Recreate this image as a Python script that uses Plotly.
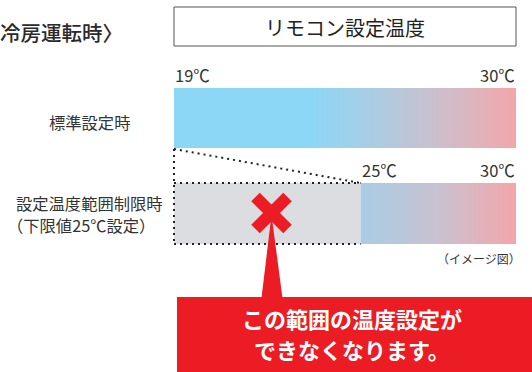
import plotly.graph_objects as go

# ---- data ----
temp_min_std = 19      # standard lower limit (°C)
temp_max = 30          # upper limit (°C)
temp_min_limited = 25  # restricted lower limit (°C)
row_labels = ["標準設定時", "設定温度範囲制限時", "（下限値25℃設定）"]
tick_labels_std = ["19℃", "30℃"]
tick_labels_lim = ["25℃", "30℃"]
title_left = "冷房運転時〉"
box_title = "リモコン設定温度"
callout_lines = ["この範囲の温度設定が", "できなくなります。"]
note = "（イメージ図）"

W, H = 532, 372
PX0, PX1 = 174, 516  # pixel positions of 19°C and 30°C
scale = (PX1 - PX0) / (temp_max - temp_min_std)
T0 = temp_min_std - PX0 / scale
T1 = T0 + W / scale


def tx(p):
    return T0 + p / scale


def pp(p):  # pixel -> paper x
    return p / W


# gradient stops as (temperature, colour)
grad_std = [(temp_min_std, "#8dd7f6"), (tx(312), "#8dd7f6"), (tx(380), "#aecbe1"),
            (tx(440), "#cdbfcc"), (temp_max, "#f3a6aa")]
grad_lim = [(temp_min_limited, "#a8cde5"), (tx(440), "#cac1d0"), (temp_max, "#f3a6aa")]


def cscale(stops, lo, hi):
    return [[(t - lo) / (hi - lo), c] for t, c in stops]


fig = go.Figure()

TOP_Y0, TOP_Y1 = 88, 148
LOW_Y0, LOW_Y1 = 183, 244

for lo, hi, y0, y1, stops in [
    (temp_min_std, temp_max, TOP_Y0, TOP_Y1, grad_std),
    (temp_min_limited, temp_max, LOW_Y0, LOW_Y1, grad_lim),
]:
    fig.add_trace(go.Scatter(
        x=[lo, hi, hi, lo, lo], y=[y0, y0, y1, y1, y0],
        mode="lines", fill="toself", line=dict(width=0),
        fillgradient=dict(type="horizontal", colorscale=cscale(stops, lo, hi)),
        hoverinfo="skip", showlegend=False))

shapes = []
# disabled (grey) zone
shapes.append(dict(type="rect", xref="x", yref="y", x0=temp_min_std, x1=temp_min_limited,
                   y0=LOW_Y0, y1=LOW_Y1, fillcolor="#dcdde0", line=dict(width=0), layer="below"))
dot = dict(color="#222222", width=2, dash="2px,4px")
shapes.append(dict(type="line", xref="x", yref="y", x0=temp_min_std, x1=temp_min_std,
                   y0=TOP_Y1 + 1, y1=LOW_Y1, line=dot))
shapes.append(dict(type="line", xref="x", yref="y", x0=temp_min_std, x1=temp_min_limited,
                   y0=TOP_Y1 + 1, y1=LOW_Y0, line=dot))
shapes.append(dict(type="line", xref="x", yref="y", x0=temp_min_std, x1=temp_min_limited,
                   y0=LOW_Y0, y1=LOW_Y0, line=dot))
shapes.append(dict(type="line", xref="x", yref="y", x0=temp_min_std, x1=temp_min_limited,
                   y0=LOW_Y1, y1=LOW_Y1, line=dot))
# title box
shapes.append(dict(type="rect", xref="x", yref="y", x0=temp_min_std, x1=temp_max,
                   y0=7, y1=46, line=dict(color="#555555", width=1), fillcolor="rgba(0,0,0,0)"))
RED = "#ec1c24"
# callout box and pointer
shapes.append(dict(type="rect", xref="paper", yref="y", x0=pp(177), x1=1.02, y0=297, y1=380,
                   fillcolor=RED, line=dict(width=0)))
shapes.append(dict(type="path", xref="paper", yref="y",
                   path=f"M {pp(271.5)},{215} L {pp(282.5)},{298} L {pp(261.5)},{298} Z",
                   fillcolor=RED, line=dict(width=0)))
# red cross
cx, cy, r = 271.5, 213, 16
for (a, b, c, d) in [(cx - r, cy - r, cx + r, cy + r), (cx + r, cy - r, cx - r, cy + r)]:
    shapes.append(dict(type="line", xref="paper", yref="y", x0=pp(a), y0=b, x1=pp(c), y1=d,
                       line=dict(color=RED, width=12)))

FONT = "Noto Sans CJK JP"
TXT = "#333333"
ann = []


def add(text, x, y, size, xanchor="center", color=TXT, weight="normal", xref="paper"):
    ann.append(dict(text=text, x=x, y=y, xref=xref, yref="y", xanchor=xanchor, yanchor="middle",
                    showarrow=False, borderpad=0,
                    font=dict(family=FONT, size=size, color=color, weight=weight)))


add(title_left, pp(-1), 32, 20.5, xanchor="left", color="#2a2a2a", weight=500)
add(box_title, pp(345), 27, 20, color="#222222")
add(tick_labels_std[0], temp_min_std, 75, 16.5, xanchor="left", xref="x")
add(tick_labels_std[1], temp_max, 75, 16.5, xanchor="right", xref="x")
add(tick_labels_lim[0], temp_min_limited, 170, 16.5, xanchor="left", xref="x")
add(tick_labels_lim[1], temp_max, 170, 16.5, xanchor="right", xref="x")
add(row_labels[0], pp(89), 122, 16.3)
add(row_labels[1], pp(89), 203, 16.3)
add(row_labels[2], pp(6), 225, 16.3, xanchor="left")
add(note, pp(522), 258, 12, xanchor="right")
add(callout_lines[0], pp(352), 318, 22, color="white", weight="bold")
add(callout_lines[1], pp(352), 349, 22, color="white", weight="bold")

fig.update_layout(
    width=W, height=H, margin=dict(l=0, r=0, t=0, b=0),
    paper_bgcolor="white", plot_bgcolor="white",
    xaxis=dict(range=[T0, T1], visible=False, fixedrange=True),
    yaxis=dict(range=[H, 0], visible=False, fixedrange=True),
    shapes=shapes, annotations=ann, showlegend=False,
)
fig.write_html("out.html", config=dict(displayModeBar=False),
               post_script="document.body.style.margin='0';document.body.style.overflow='hidden';")
